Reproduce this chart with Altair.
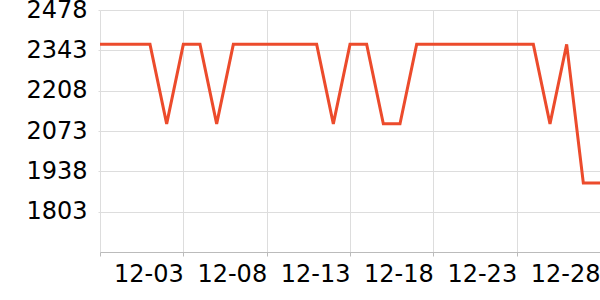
import altair as alt
import pandas as pd

dates = pd.date_range("2023-11-28", "2023-12-28", freq="D").strftime("%Y-%m-%d").tolist()
values = [2363, 2363, 2363, 2363, 2097, 2363, 2363, 2097, 2363, 2363,
          2363, 2363, 2363, 2363, 2097, 2363, 2363, 2097, 2097, 2363,
          2363, 2363, 2363, 2363, 2363, 2363, 2363, 2097, 2363, 1899, 1899]
y_ticks = [1803, 1938, 2073, 2208, 2343, 2478]
x_tick_days = ["2023-11-28", "2023-12-03", "2023-12-08", "2023-12-13",
               "2023-12-18", "2023-12-23", "2023-12-28"]

df = pd.DataFrame({"date": dates, "value": values})

def utc_dt(s):
    y, m, d = (int(p) for p in s.split("-"))
    return alt.DateTime(year=y, month=m, date=d, utc=True)

first_ms = int(pd.Timestamp("2023-11-29", tz="UTC").timestamp() * 1000)

chart = alt.Chart(df).mark_line(color="#ec4b2c", strokeWidth=3, clip=True).encode(
    x=alt.X("date:T",
            scale=alt.Scale(type="utc", domain=[utc_dt(dates[0]), utc_dt(dates[-1])]),
            axis=alt.Axis(values=[utc_dt(s) for s in x_tick_days],
                          labelExpr=f"datum.value < {first_ms} ? '' : utcFormat(datum.value, '%m-%d')",
                          title=None, labelAlign="right", labelFontSize=24,
                          labelFont="DejaVu Sans", labelColor="#000000",
                          labelPadding=6, tickSize=4, tickColor="#bbbbbb",
                          domainColor="#bbbbbb", gridColor="#dddddd",
                          labelOverlap=False, labelFlush=False)),
    y=alt.Y("value:Q",
            scale=alt.Scale(domain=[1668, 2478], nice=False, zero=False),
            axis=alt.Axis(values=y_ticks, format="d", title=None, labelFontSize=24,
                          labelFont="DejaVu Sans", labelColor="#000000",
                          labelPadding=11, tickSize=2, tickColor="#dddddd",
                          domain=False, gridColor="#dddddd",
                          labelOverlap=False, labelFlush=False)),
).properties(
    width=500, height=242,
    autosize=alt.AutoSizeParams(type="none"),
    padding={"left": 100, "top": 10, "right": 0, "bottom": 48},
).configure_view(stroke=None)

chart.save("out.html", embed_options={"renderer": "svg", "actions": False})
